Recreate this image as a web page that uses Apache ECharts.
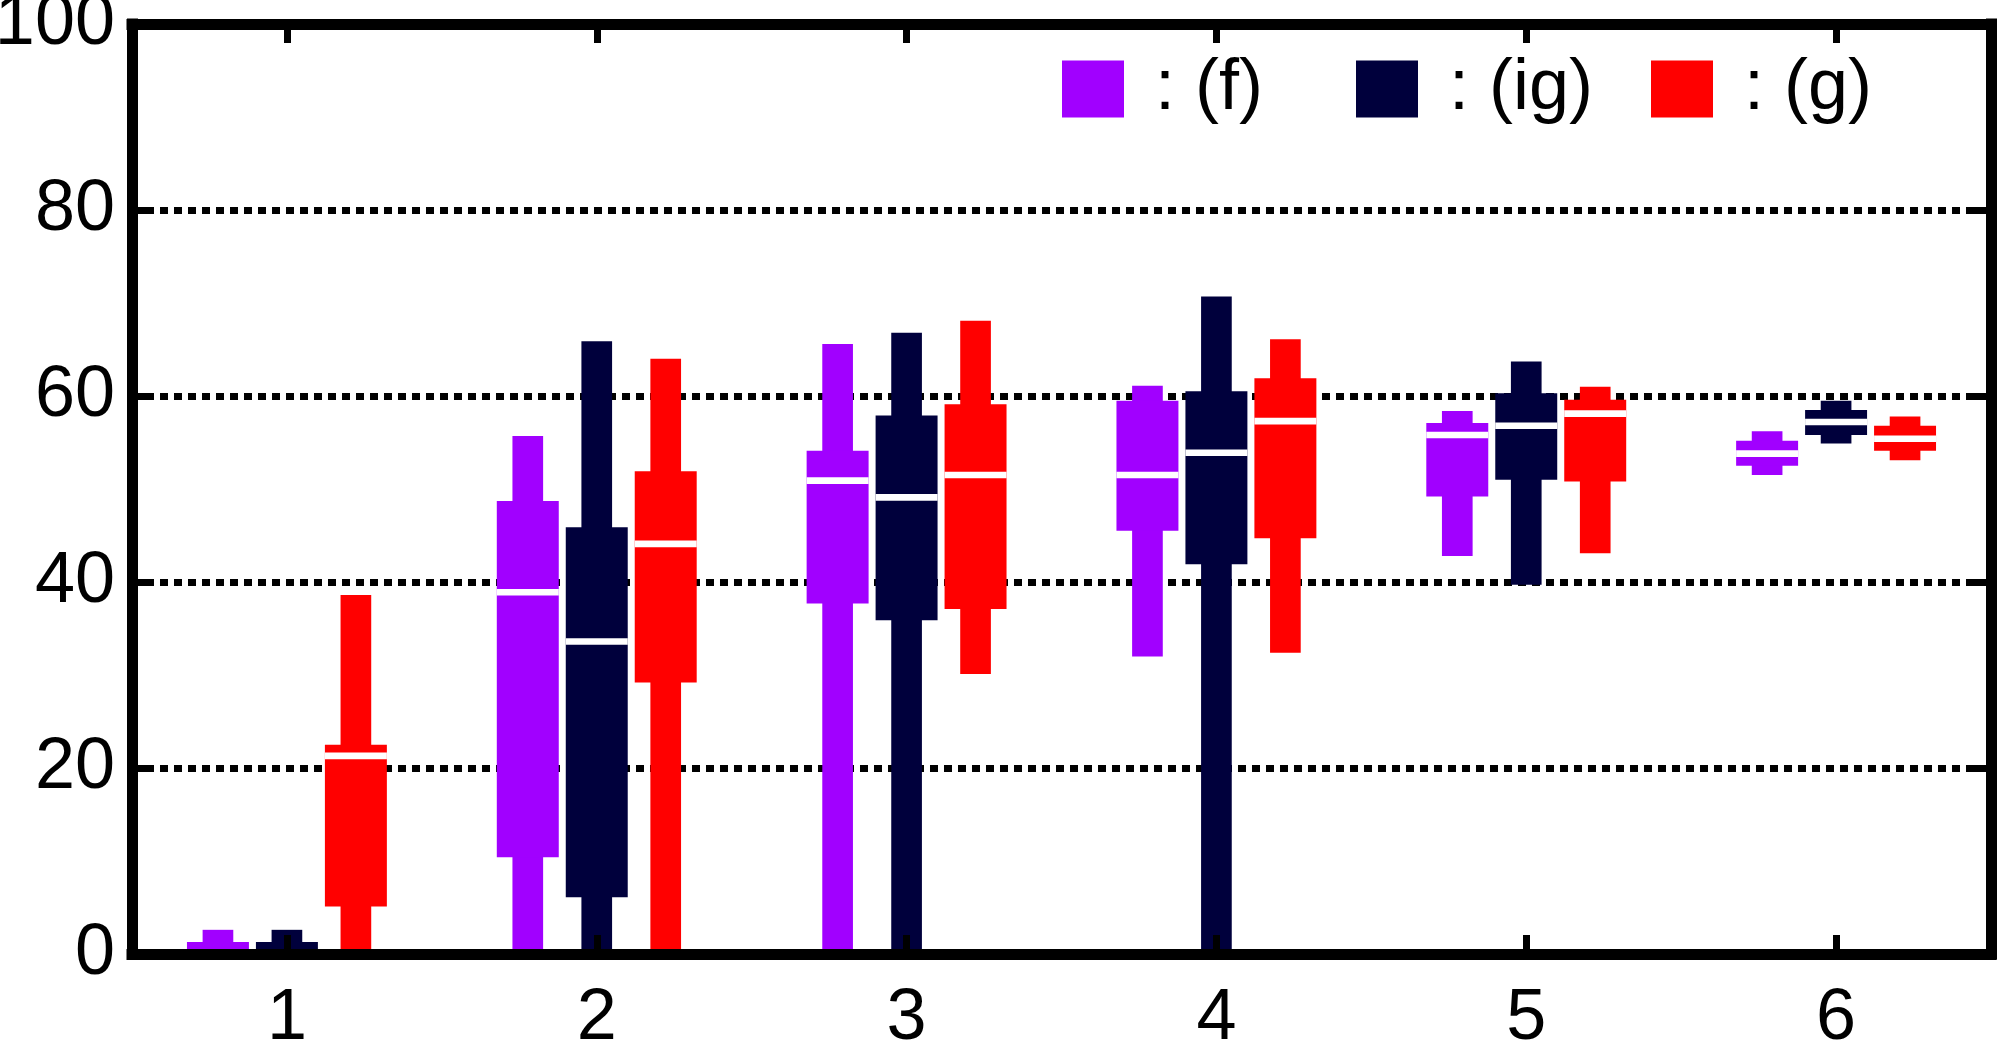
<!DOCTYPE html>
<html>
<head>
<meta charset="utf-8">
<script src="https://cdn.jsdelivr.net/npm/echarts@6/dist/echarts.min.js"></script>
<style>
html, body { margin: 0; padding: 0; background: #fff; }
#main { width: 1998px; height: 1041px; }
</style>
</head>
<body>
<div id="main"></div>
<script>
// categories on the x axis
var categories = ['1', '2', '3', '4', '5', '6']
var yTicks = [0, 20, 40, 60, 80, 100]

// one row per category: [min, q1, median, q3, max]
var statsF = [
  [0, 0, 0, 1.3, 2.6],
  [0, 10.4, 38.9, 48.7, 55.7],
  [0, 37.7, 50.9, 54.1, 65.6],
  [32.0, 45.5, 51.5, 59.5, 61.1],
  [42.8, 49.2, 55.8, 57.1, 58.4],
  [51.5, 52.5, 53.8, 55.2, 56.2]
]
var statsIG = [
  [0, 0, 0, 1.3, 2.6],
  [0, 6.1, 33.6, 45.9, 65.9],
  [0, 35.9, 49.1, 57.9, 66.8],
  [0, 41.9, 53.9, 60.5, 70.7],
  [39.7, 51.0, 56.8, 60.3, 63.7],
  [54.9, 55.8, 57.2, 58.5, 59.5]
]
var statsG = [
  [0, 5.1, 21.3, 22.5, 38.6],
  [0, 29.2, 44.1, 51.9, 64.0],
  [30.1, 37.1, 51.5, 59.1, 68.1],
  [32.4, 44.7, 57.3, 61.9, 66.1],
  [43.1, 50.8, 58.1, 59.6, 61.0],
  [53.1, 54.1, 55.4, 56.8, 57.8]
]

var seriesNames = [': (f)', ': (ig)', ': (g)']
var seriesColors = ['#a100ff', '#00003c', '#ff0000']
var seriesStats = [statsF, statsIG, statsG]
// left edge of each legend entry
var legendLeft = [1062, 1356, 1651]

var fontFamily = '"Liberation Sans", Arial, Helvetica, sans-serif'

// box + whisker drawn as two filled rectangles and a white median bar
function renderBox (params, api) {
  var s = params.seriesIndex
  var cat = api.value(0)
  var band = api.size([1, 0])[0]
  var cx = api.coord([cat, 0])[0] + (s - 1) * band * 0.2226
  var boxW = band * 0.2
  var whiskW = band * 0.099
  var yMin = api.coord([cat, api.value(1)])[1]
  var yQ1 = api.coord([cat, api.value(2)])[1]
  var yMed = api.coord([cat, api.value(3)])[1]
  var yQ3 = api.coord([cat, api.value(4)])[1]
  var yMax = api.coord([cat, api.value(5)])[1]
  var color = api.visual('color')
  return {
    type: 'group',
    children: [
      { type: 'rect', shape: { x: cx - whiskW / 2, y: yMax, width: whiskW, height: yMin - yMax }, style: { fill: color } },
      { type: 'rect', shape: { x: cx - boxW / 2, y: yQ3, width: boxW, height: yQ1 - yQ3 }, style: { fill: color } },
      { type: 'rect', shape: { x: cx - boxW / 2, y: yMed - 3.3, width: boxW, height: 6.6 }, style: { fill: '#ffffff' } }
    ]
  }
}

var series = seriesNames.map(function (name, s) {
  return {
    name: name,
    type: 'custom',
    renderItem: renderBox,
    itemStyle: { color: seriesColors[s] },
    encode: { x: 0, y: [1, 2, 3, 4, 5] },
    data: seriesStats[s].map(function (row, i) {
      return [i].concat(row)
    })
  }
})

var legends = seriesNames.map(function (name, s) {
  return {
    data: [name],
    left: legendLeft[s],
    top: 53,
    padding: 0,
    icon: 'rect',
    itemWidth: 62,
    itemHeight: 57,
    selectedMode: false,
    textStyle: { fontSize: 72, fontFamily: fontFamily, color: '#000', padding: [0, 0, 0, 26] }
  }
})

var frameLine = { show: true, onZero: false, lineStyle: { color: '#000', width: 11, cap: 'square' } }
var frameTick = { show: true, inside: true, length: 19, lineStyle: { color: '#000', width: 7 } }

var myChart = echarts.init(document.getElementById('main'))
myChart.setOption({
  animation: false,
  backgroundColor: '#fff',
  grid: { left: 132, right: 7, top: 24, bottom: 87, containLabel: false, outerBoundsMode: 'none' },
  legend: legends,
  xAxis: [
    {
      type: 'category',
      data: categories,
      position: 'bottom',
      z: 10,
      axisLine: frameLine,
      axisTick: Object.assign({ alignWithLabel: true }, frameTick),
      axisLabel: { fontSize: 72, fontFamily: fontFamily, color: '#000', margin: 29 },
      splitLine: { show: false }
    },
    {
      type: 'category',
      data: categories,
      position: 'top',
      z: 10,
      axisLine: frameLine,
      axisTick: Object.assign({ alignWithLabel: true }, frameTick),
      axisLabel: { show: false },
      splitLine: { show: false }
    }
  ],
  yAxis: [
    {
      type: 'value',
      min: yTicks[0],
      max: yTicks[yTicks.length - 1],
      interval: 20,
      position: 'left',
      axisLine: frameLine,
      axisTick: frameTick,
      axisLabel: { fontSize: 72, fontFamily: fontFamily, color: '#000', margin: 17 },
      splitLine: { show: true, lineStyle: { color: '#000', width: 7, type: [8, 6] } }
    },
    {
      type: 'value',
      min: yTicks[0],
      max: yTicks[yTicks.length - 1],
      interval: 20,
      position: 'right',
      axisLine: frameLine,
      axisTick: frameTick,
      axisLabel: { show: false },
      splitLine: { show: false }
    }
  ],
  series: series
})
</script>
</body>
</html>
